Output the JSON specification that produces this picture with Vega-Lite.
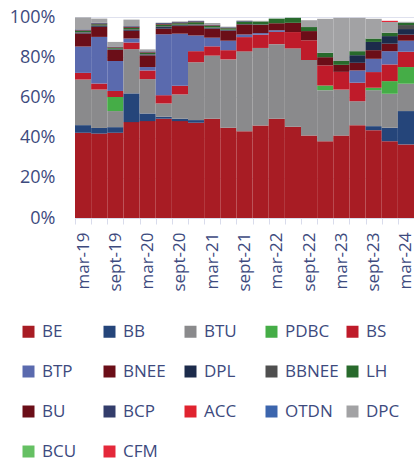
{
  "$schema": "https://vega.github.io/schema/vega-lite/v6.json",
  "autosize": {"type": "none"},
  "width": 339,
  "height": 201,
  "padding": {"left": 75, "top": 17, "right": 0, "bottom": 243},
  "background": "white",
  "config": {
    "view": {"stroke": null},
    "font": "Open Sans",
    "axis": {"labelFont": "Open Sans", "labelColor": "#3d4a7e", "labelFontSize": 18}
  },
  "datasets": {
    "series": [
      {"s": "BE", "o": 1}, {"s": "BB", "o": 2}, {"s": "BTU", "o": 3}, {"s": "PDBC", "o": 4},
      {"s": "BS", "o": 5}, {"s": "BTP", "o": 6}, {"s": "BNEE", "o": 7}, {"s": "DPL", "o": 8},
      {"s": "BBNEE", "o": 9}, {"s": "LH", "o": 10}, {"s": "BU", "o": 11}, {"s": "BCP", "o": 12},
      {"s": "ACC", "o": 13}, {"s": "OTDN", "o": 14}, {"s": "DPC", "o": 15}, {"s": "BCU", "o": 16},
      {"s": "CFM", "o": 17}
    ]
  },
  "data": {
    "values": [
      {"q": "mar-19", "s": "BE", "v": 42.4}, {"q": "mar-19", "s": "BB", "v": 3.8}, {"q": "mar-19", "s": "BTU", "v": 22.7}, {"q": "mar-19", "s": "BS", "v": 3.3}, {"q": "mar-19", "s": "BTP", "v": 13.1}, {"q": "mar-19", "s": "BNEE", "v": 6.5}, {"q": "mar-19", "s": "DPL", "v": 0.4}, {"q": "mar-19", "s": "BBNEE", "v": 0.3}, {"q": "mar-19", "s": "LH", "v": 0.6}, {"q": "mar-19", "s": "BU", "v": 0.3}, {"q": "mar-19", "s": "BCP", "v": 0.4}, {"q": "mar-19", "s": "DPC", "v": 6.0},
      {"q": "jun-19", "s": "BE", "v": 42.0}, {"q": "jun-19", "s": "BB", "v": 2.8}, {"q": "jun-19", "s": "BTU", "v": 19.1}, {"q": "jun-19", "s": "BS", "v": 3.0}, {"q": "jun-19", "s": "BTP", "v": 23.2}, {"q": "jun-19", "s": "BNEE", "v": 5.0}, {"q": "jun-19", "s": "DPL", "v": 0.4}, {"q": "jun-19", "s": "BBNEE", "v": 0.4}, {"q": "jun-19", "s": "LH", "v": 0.5}, {"q": "jun-19", "s": "BU", "v": 0.3}, {"q": "jun-19", "s": "BCP", "v": 0.4}, {"q": "jun-19", "s": "DPC", "v": 2.1},
      {"q": "sept-19", "s": "BE", "v": 42.4}, {"q": "sept-19", "s": "BB", "v": 2.8}, {"q": "sept-19", "s": "BTU", "v": 8.0}, {"q": "sept-19", "s": "PDBC", "v": 7.0}, {"q": "sept-19", "s": "BS", "v": 3.0}, {"q": "sept-19", "s": "BTP", "v": 14.9}, {"q": "sept-19", "s": "BNEE", "v": 5.5}, {"q": "sept-19", "s": "DPL", "v": 0.3}, {"q": "sept-19", "s": "BBNEE", "v": 0.3}, {"q": "sept-19", "s": "LH", "v": 0.5}, {"q": "sept-19", "s": "BU", "v": 0.3}, {"q": "sept-19", "s": "BCP", "v": 0.3}, {"q": "sept-19", "s": "DPC", "v": 2.3},
      {"q": "dec-19", "s": "BE", "v": 47.7}, {"q": "dec-19", "s": "BB", "v": 14.3}, {"q": "dec-19", "s": "BTU", "v": 22.0}, {"q": "dec-19", "s": "BS", "v": 3.3}, {"q": "dec-19", "s": "BTP", "v": 2.0}, {"q": "dec-19", "s": "BNEE", "v": 3.8}, {"q": "dec-19", "s": "DPL", "v": 0.4}, {"q": "dec-19", "s": "BBNEE", "v": 0.4}, {"q": "dec-19", "s": "LH", "v": 0.7}, {"q": "dec-19", "s": "BU", "v": 0.4}, {"q": "dec-19", "s": "BCP", "v": 0.4}, {"q": "dec-19", "s": "DPC", "v": 3.3},
      {"q": "mar-20", "s": "BE", "v": 48.2}, {"q": "mar-20", "s": "BB", "v": 3.8}, {"q": "mar-20", "s": "BTU", "v": 17.1}, {"q": "mar-20", "s": "BS", "v": 4.3}, {"q": "mar-20", "s": "BTP", "v": 1.7}, {"q": "mar-20", "s": "BNEE", "v": 5.8}, {"q": "mar-20", "s": "DPL", "v": 0.4}, {"q": "mar-20", "s": "BBNEE", "v": 0.3}, {"q": "mar-20", "s": "LH", "v": 0.6}, {"q": "mar-20", "s": "BU", "v": 0.3}, {"q": "mar-20", "s": "BCP", "v": 0.4}, {"q": "mar-20", "s": "DPC", "v": 1.0},
      {"q": "jun-20", "s": "BE", "v": 49.4}, {"q": "jun-20", "s": "BB", "v": 1.0}, {"q": "jun-20", "s": "BTU", "v": 6.6}, {"q": "jun-20", "s": "BS", "v": 4.1}, {"q": "jun-20", "s": "BTP", "v": 30.3}, {"q": "jun-20", "s": "BNEE", "v": 2.8}, {"q": "jun-20", "s": "DPL", "v": 0.8}, {"q": "jun-20", "s": "BBNEE", "v": 0.4}, {"q": "jun-20", "s": "LH", "v": 0.8}, {"q": "jun-20", "s": "BU", "v": 0.4}, {"q": "jun-20", "s": "BCP", "v": 0.4}, {"q": "jun-20", "s": "DPC", "v": 0.2},
      {"q": "sept-20", "s": "BE", "v": 48.2}, {"q": "sept-20", "s": "BB", "v": 1.2}, {"q": "sept-20", "s": "BTU", "v": 12.1}, {"q": "sept-20", "s": "BS", "v": 4.3}, {"q": "sept-20", "s": "BTP", "v": 25.9}, {"q": "sept-20", "s": "BNEE", "v": 3.8}, {"q": "sept-20", "s": "DPL", "v": 0.4}, {"q": "sept-20", "s": "BBNEE", "v": 0.3}, {"q": "sept-20", "s": "LH", "v": 0.7}, {"q": "sept-20", "s": "BU", "v": 0.3}, {"q": "sept-20", "s": "BCP", "v": 0.3}, {"q": "sept-20", "s": "DPC", "v": 0.3},
      {"q": "dec-20", "s": "BE", "v": 47.4}, {"q": "dec-20", "s": "BB", "v": 1.3}, {"q": "dec-20", "s": "BTU", "v": 28.8}, {"q": "dec-20", "s": "BS", "v": 5.5}, {"q": "dec-20", "s": "BTP", "v": 7.8}, {"q": "dec-20", "s": "BNEE", "v": 5.0}, {"q": "dec-20", "s": "DPL", "v": 0.3}, {"q": "dec-20", "s": "BBNEE", "v": 0.3}, {"q": "dec-20", "s": "LH", "v": 1.0}, {"q": "dec-20", "s": "BU", "v": 0.3}, {"q": "dec-20", "s": "BCP", "v": 0.4},
      {"q": "mar-21", "s": "BE", "v": 49.4}, {"q": "mar-21", "s": "BTU", "v": 31.4}, {"q": "mar-21", "s": "BS", "v": 4.6}, {"q": "mar-21", "s": "BTP", "v": 4.3}, {"q": "mar-21", "s": "BNEE", "v": 4.5}, {"q": "mar-21", "s": "DPL", "v": 0.3}, {"q": "mar-21", "s": "BBNEE", "v": 0.3}, {"q": "mar-21", "s": "LH", "v": 0.8}, {"q": "mar-21", "s": "BU", "v": 0.3}, {"q": "mar-21", "s": "BCP", "v": 0.3}, {"q": "mar-21", "s": "DPC", "v": 0.8},
      {"q": "jun-21", "s": "BE", "v": 44.9}, {"q": "jun-21", "s": "BTU", "v": 34.0}, {"q": "jun-21", "s": "BS", "v": 4.6}, {"q": "jun-21", "s": "BTP", "v": 4.7}, {"q": "jun-21", "s": "BNEE", "v": 5.0}, {"q": "jun-21", "s": "DPL", "v": 0.3}, {"q": "jun-21", "s": "BBNEE", "v": 0.2}, {"q": "jun-21", "s": "LH", "v": 0.7}, {"q": "jun-21", "s": "BU", "v": 0.2}, {"q": "jun-21", "s": "BCP", "v": 0.3}, {"q": "jun-21", "s": "DPC", "v": 0.3},
      {"q": "sept-21", "s": "BE", "v": 43.2}, {"q": "sept-21", "s": "BTU", "v": 39.7}, {"q": "sept-21", "s": "BS", "v": 7.1}, {"q": "sept-21", "s": "BTP", "v": 1.3}, {"q": "sept-21", "s": "BNEE", "v": 5.0}, {"q": "sept-21", "s": "DPL", "v": 0.2}, {"q": "sept-21", "s": "LH", "v": 1.2}, {"q": "sept-21", "s": "BCP", "v": 0.3}, {"q": "sept-21", "s": "DPC", "v": 0.3},
      {"q": "dec-21", "s": "BE", "v": 46.0}, {"q": "dec-21", "s": "BTU", "v": 38.6}, {"q": "dec-21", "s": "BS", "v": 6.6}, {"q": "dec-21", "s": "BTP", "v": 0.8}, {"q": "dec-21", "s": "BNEE", "v": 4.1}, {"q": "dec-21", "s": "DPL", "v": 0.2}, {"q": "dec-21", "s": "LH", "v": 1.5}, {"q": "dec-21", "s": "DPC", "v": 0.3},
      {"q": "mar-22", "s": "BE", "v": 49.4}, {"q": "mar-22", "s": "BTU", "v": 37.1}, {"q": "mar-22", "s": "BS", "v": 6.1}, {"q": "mar-22", "s": "BTP", "v": 0.8}, {"q": "mar-22", "s": "BNEE", "v": 3.5}, {"q": "mar-22", "s": "LH", "v": 2.3},
      {"q": "jun-22", "s": "BE", "v": 45.4}, {"q": "jun-22", "s": "BTU", "v": 39.0}, {"q": "jun-22", "s": "BS", "v": 8.1}, {"q": "jun-22", "s": "BNEE", "v": 4.6}, {"q": "jun-22", "s": "LH", "v": 2.5},
      {"q": "sept-22", "s": "BE", "v": 41.0}, {"q": "sept-22", "s": "BTU", "v": 37.6}, {"q": "sept-22", "s": "BS", "v": 9.8}, {"q": "sept-22", "s": "BNEE", "v": 4.6}, {"q": "sept-22", "s": "LH", "v": 2.0}, {"q": "sept-22", "s": "DPC", "v": 3.4},
      {"q": "dec-22", "s": "BE", "v": 38.2}, {"q": "dec-22", "s": "BTU", "v": 25.4}, {"q": "dec-22", "s": "PDBC", "v": 2.3}, {"q": "dec-22", "s": "BS", "v": 10.0}, {"q": "dec-22", "s": "BNEE", "v": 4.1}, {"q": "dec-22", "s": "LH", "v": 2.2}, {"q": "dec-22", "s": "DPC", "v": 16.9},
      {"q": "mar-23", "s": "BE", "v": 41.0}, {"q": "mar-23", "s": "BTU", "v": 22.9}, {"q": "mar-23", "s": "BS", "v": 8.8}, {"q": "mar-23", "s": "BNEE", "v": 3.5}, {"q": "mar-23", "s": "LH", "v": 1.9}, {"q": "mar-23", "s": "DPC", "v": 21.5},
      {"q": "jun-23", "s": "BE", "v": 46.2}, {"q": "jun-23", "s": "BTU", "v": 11.9}, {"q": "jun-23", "s": "BS", "v": 9.2}, {"q": "jun-23", "s": "BTP", "v": 6.1}, {"q": "jun-23", "s": "BNEE", "v": 3.8}, {"q": "jun-23", "s": "DPL", "v": 3.8}, {"q": "jun-23", "s": "LH", "v": 2.0}, {"q": "jun-23", "s": "DPC", "v": 16.6},
      {"q": "sept-23", "s": "BE", "v": 43.7}, {"q": "sept-23", "s": "BB", "v": 2.0}, {"q": "sept-23", "s": "BTU", "v": 17.9}, {"q": "sept-23", "s": "PDBC", "v": 1.2}, {"q": "sept-23", "s": "BS", "v": 7.8}, {"q": "sept-23", "s": "BTP", "v": 6.6}, {"q": "sept-23", "s": "BNEE", "v": 4.3}, {"q": "sept-23", "s": "DPL", "v": 4.1}, {"q": "sept-23", "s": "LH", "v": 1.7}, {"q": "sept-23", "s": "DPC", "v": 9.8},
      {"q": "dec-23", "s": "BE", "v": 38.2}, {"q": "dec-23", "s": "BB", "v": 6.7}, {"q": "dec-23", "s": "BTU", "v": 16.9}, {"q": "dec-23", "s": "PDBC", "v": 6.3}, {"q": "dec-23", "s": "BS", "v": 8.3}, {"q": "dec-23", "s": "BTP", "v": 6.6}, {"q": "dec-23", "s": "BNEE", "v": 3.7}, {"q": "dec-23", "s": "DPL", "v": 3.8}, {"q": "dec-23", "s": "LH", "v": 1.7}, {"q": "dec-23", "s": "DPC", "v": 5.3}, {"q": "dec-23", "s": "CFM", "v": 0.6},
      {"q": "mar-24", "s": "BE", "v": 36.6}, {"q": "mar-24", "s": "BB", "v": 16.6}, {"q": "mar-24", "s": "BTU", "v": 13.6}, {"q": "mar-24", "s": "PDBC", "v": 8.3}, {"q": "mar-24", "s": "BS", "v": 7.6}, {"q": "mar-24", "s": "BTP", "v": 5.5}, {"q": "mar-24", "s": "BNEE", "v": 3.0}, {"q": "mar-24", "s": "DPL", "v": 2.8}, {"q": "mar-24", "s": "BBNEE", "v": 2.0}, {"q": "mar-24", "s": "LH", "v": 1.2}, {"q": "mar-24", "s": "DPC", "v": 0.4}
    ]
  },
  "transform": [
    {"lookup": "s", "from": {"data": {"name": "series"}, "key": "s", "fields": ["o"]}}
  ],
  "mark": {"type": "bar"},
  "encoding": {
    "x": {
      "field": "q", "type": "nominal", "sort": null, "title": null,
      "scale": {"paddingInner": 0, "paddingOuter": 0},
      "axis": {
        "labelAngle": -90, "tickBand": "extent", "tickSize": 6, "tickColor": "#d9dcec",
        "domainColor": "#d9dcec", "labelPadding": 8, "labelFontSize": 17,
        "labelExpr": "test(/^(mar|sept)/, datum.label) ? datum.label : ''"
      }
    },
    "y": {
      "field": "v", "type": "quantitative", "stack": "zero", "title": null,
      "scale": {"domain": [0, 100], "nice": false},
      "axis": {
        "values": [0, 20, 40, 60, 80, 100], "labelExpr": "datum.value + '%'",
        "ticks": false, "labelPadding": 20, "domainColor": "#d9dcec",
        "gridColor": "#dfe1ee", "grid": true
      }
    },
    "order": {"field": "o", "type": "quantitative", "sort": "ascending"},
    "color": {
      "field": "s", "type": "nominal",
      "scale": {
        "domain": ["BE", "BB", "BTU", "PDBC", "BS", "BTP", "BNEE", "DPL", "BBNEE", "LH", "BU", "BCP", "ACC", "OTDN", "DPC", "BCU", "CFM"],
        "range": ["#a81c24", "#25457a", "#8a8a8c", "#45ad47", "#bf1b2a", "#5a6aae", "#6b0e18", "#1c2b4b", "#4f4f4f", "#286a2c", "#6b0e18", "#333d6b", "#e0232f", "#3c65ad", "#a2a2a4", "#65c063", "#e4283a"]
      },
      "legend": {
        "title": null, "orient": "none", "legendX": -55, "legendY": 306,
        "direction": "horizontal", "columns": 5, "gridAlign": "all",
        "symbolType": "square", "symbolSize": 144, "symbolStrokeWidth": 0,
        "labelFont": "Open Sans", "labelFontSize": 17, "labelColor": "#3d4a7e",
        "labelOffset": 5, "columnPadding": 5, "rowPadding": 22, "padding": 0,
        "labelLimit": 0
      }
    }
  }
}
